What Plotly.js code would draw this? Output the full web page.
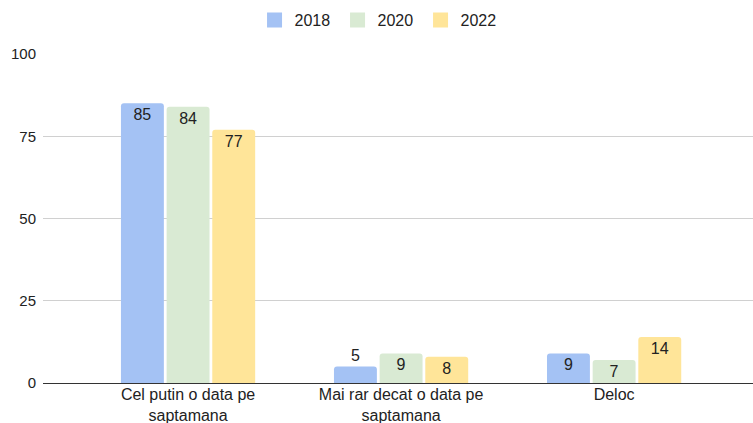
<!DOCTYPE html>
<html>
<head>
<meta charset="utf-8">
<script src="https://cdn.plot.ly/plotly-3.0.1.min.js"></script>
<style>html,body{margin:0;padding:0;background:#fff;}#chart{width:753px;height:423px;}</style>
</head>
<body>
<div id="chart"></div>
<script>
var categories = ["Cel putin o data pe<br>saptamana", "Mai rar decat o data pe<br>saptamana", "Deloc"];
var seriesNames = ["2018", "2020", "2022"];
var values2018 = [85, 5, 9];
var values2020 = [84, 9, 7];
var values2022 = [77, 8, 14];
var colors = ["#a4c2f4", "#d9ead3", "#ffe599"];
var yTicks = [0, 25, 50, 75, 100];

var FONT = "Liberation Sans, Arial, Helvetica, sans-serif";
var allValues = [values2018, values2020, values2022];
var traces = allValues.map(function (vals, i) {
  return {
    type: "bar",
    name: seriesNames[i],
    x: categories,
    y: vals,
    text: vals.map(String),
    textposition: vals.map(function (v) { return v < 7 ? "outside" : "inside"; }),
    insidetextanchor: "end",
    textangle: 0,
    constraintext: "none",
    cliponaxis: false,
    textfont: { family: FONT, size: 16, color: "#222" },
    marker: { color: colors[i], cornerradius: 3, line: { width: 0 } },
    showlegend: false,
    legendgroup: seriesNames[i],
    hoverinfo: "none"
  };
});
// legend entries drawn as square swatches (no data points)
seriesNames.forEach(function (name, i) {
  traces.push({
    type: "scatter",
    mode: "markers",
    name: name,
    x: [null],
    y: [null],
    legendgroup: name,
    marker: { symbol: "square", size: 15, color: colors[i], line: { width: 0 } },
    hoverinfo: "none"
  });
});

var layout = {
  width: 753,
  height: 423,
  margin: { l: 43, r: 0, t: 54, b: 40 },
  paper_bgcolor: "#fff",
  plot_bgcolor: "#fff",
  font: { family: FONT, size: 16, color: "#222" },
  barmode: "group",
  bargap: 0.357,
  bargroupgap: 0.06,
  showlegend: true,
  legend: {
    orientation: "h",
    x: 0.4733, xanchor: "center",
    y: 1.1033, yanchor: "middle",
    font: { family: FONT, size: 16, color: "#222" },
    itemwidth: 30,
    entrywidth: 38,
    entrywidthmode: "pixels",
    traceorder: "normal"
  },
  xaxis: {
    type: "category",
    range: [-0.681, 2.652],
    showgrid: false,
    showline: false,
    zeroline: false,
    ticks: "",
    tickfont: { family: FONT, size: 16, color: "#222" },
    fixedrange: true
  },
  yaxis: {
    range: [0, 100],
    tickvals: yTicks,
    ticktext: yTicks.map(String),
    showgrid: true,
    gridcolor: "#d0d0d0",
    gridwidth: 1,
    zeroline: true,
    zerolinecolor: "#333",
    zerolinewidth: 1,
    showline: false,
    ticks: "",
    ticklabelstandoff: 6,
    tickfont: { family: FONT, size: 15, color: "#222" },
    fixedrange: true
  }
};

Plotly.newPlot("chart", traces, layout, { displayModeBar: false, staticPlot: true });
</script>
</body>
</html>
